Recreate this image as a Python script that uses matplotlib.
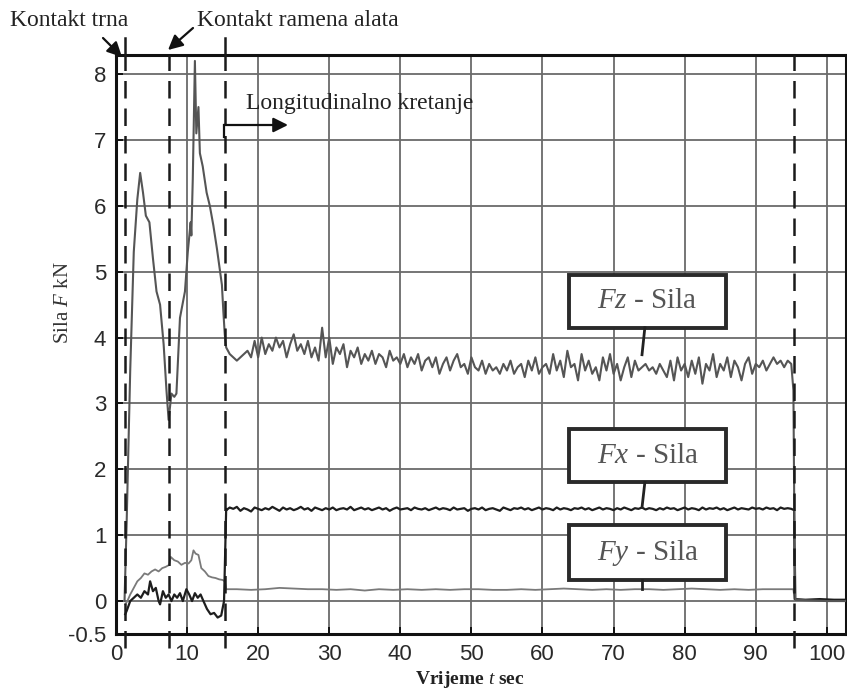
import matplotlib
matplotlib.use("Agg")
import matplotlib.pyplot as plt
from matplotlib.patches import Rectangle, FancyArrowPatch
from matplotlib.lines import Line2D

plt.rcParams["mathtext.fontset"] = "custom"
plt.rcParams["mathtext.rm"] = "Liberation Serif"
plt.rcParams["mathtext.it"] = "Liberation Serif:italic"
plt.rcParams["mathtext.bf"] = "Liberation Serif:bold"

# ---------------- data ----------------
# Fz - early transient phase
fz_early_t = [1.2, 1.5, 2.0, 2.5, 3.0, 3.4, 3.8, 4.2, 4.7, 5.2, 5.7, 6.2, 6.7, 7.1, 7.4,
              7.8, 8.2, 8.5, 9.0, 9.7, 10.1, 10.5, 10.6, 10.8, 11.1, 11.3, 11.6, 11.8,
              12.2, 12.75, 13.2, 13.7, 14.2, 14.9, 15.1, 15.3]
fz_early = [0.0, 1.2, 3.5, 5.3, 6.1, 6.5, 6.2, 5.85, 5.75, 5.2, 4.7, 4.5, 3.9, 3.2, 2.75,
            3.15, 3.1, 3.15, 4.3, 4.7, 5.3, 5.75, 5.55, 6.4, 8.2, 7.1, 7.5, 6.8,
            6.6, 6.2, 6.0, 5.7, 5.35, 4.8, 4.4, 4.05]
# steady phase sampled every 0.5 s from 15.5 s to 95.0 s
steady_start, steady_step = 15.5, 0.5
fz_steady = [
    3.85, 3.75, 3.70, 3.65, 3.70, 3.75, 3.80, 3.70, 3.95, 3.70,
    4.00, 3.75, 3.90, 3.80, 4.00, 3.85, 3.95, 3.70, 3.90, 4.05,
    3.80, 3.90, 3.75, 3.95, 3.70, 3.85, 3.65, 4.15, 3.70, 4.00,
    3.60, 3.85, 3.75, 3.90, 3.55, 3.80, 3.70, 3.85, 3.60, 3.75,
    3.65, 3.80, 3.60, 3.75, 3.70, 3.55, 3.80, 3.65, 3.70, 3.60,
    3.75, 3.55, 3.70, 3.60, 3.75, 3.50, 3.65, 3.70, 3.55, 3.70,
    3.45, 3.60, 3.70, 3.50, 3.65, 3.75, 3.55, 3.60, 3.45, 3.70,
    3.55, 3.50, 3.65, 3.45, 3.60, 3.50, 3.55, 3.45, 3.60, 3.50,
    3.65, 3.45, 3.55, 3.60, 3.40, 3.65, 3.50, 3.70, 3.45, 3.55,
    3.60, 3.45, 3.75, 3.50, 3.65, 3.40, 3.80, 3.55, 3.60, 3.35,
    3.75, 3.50, 3.65, 3.45, 3.55, 3.35, 3.70, 3.50, 3.75, 3.45,
    3.60, 3.35, 3.55, 3.70, 3.40, 3.65, 3.50, 3.55, 3.60, 3.50,
    3.55, 3.45, 3.60, 3.50, 3.40, 3.65, 3.35, 3.70, 3.50, 3.60,
    3.40, 3.65, 3.45, 3.70, 3.30, 3.60, 3.50, 3.75, 3.40, 3.60,
    3.50, 3.70, 3.40, 3.65, 3.55, 3.35, 3.60, 3.70, 3.45, 3.60,
    3.55, 3.65, 3.50, 3.60, 3.70, 3.60, 3.65, 3.55, 3.65, 3.60]
fz_tail_t = [95.3, 95.45, 95.6, 100.0, 102.7]
fz_tail = [3.2, 1.0, 0.02, 0.0, 0.0]

# Fx
fx_early_t = [1.3, 1.5, 2.0, 2.5, 3.0, 3.5, 4.0, 4.5, 4.8, 5.2, 5.6, 6.0, 6.2, 6.6, 7.0,
              7.4, 7.8, 8.2, 8.6, 9.0, 9.4, 9.9, 10.3, 10.7, 11.1, 11.5, 11.9, 12.3,
              12.8, 13.3, 13.8, 14.3, 14.8, 15.2]
fx_early = [-0.2, -0.15, 0.0, 0.05, 0.1, 0.05, 0.15, 0.1, 0.3, 0.15, 0.2, 0.0, -0.05, 0.15,
            0.05, 0.1, 0.0, 0.1, 0.05, 0.12, 0.0, 0.18, 0.1, 0.0, 0.12, 0.05, 0.1, 0.0,
            -0.12, -0.2, -0.18, -0.25, -0.22, 0.0]
fx_steady = [
    1.38, 1.42, 1.40, 1.43, 1.37, 1.41, 1.39, 1.36, 1.42, 1.40,
    1.38, 1.41, 1.39, 1.43, 1.40, 1.37, 1.42, 1.39, 1.41, 1.38,
    1.40, 1.43, 1.39, 1.41, 1.37, 1.42, 1.40, 1.38, 1.41, 1.39,
    1.42, 1.38, 1.40, 1.41, 1.39, 1.43, 1.38, 1.40, 1.42, 1.39,
    1.41, 1.38, 1.40, 1.42, 1.39, 1.41, 1.37, 1.40, 1.42, 1.39,
    1.40, 1.41, 1.38, 1.42, 1.40, 1.39, 1.41, 1.38, 1.40, 1.42,
    1.39, 1.41, 1.40, 1.38, 1.42, 1.39, 1.40, 1.41, 1.37, 1.40,
    1.41, 1.39, 1.42, 1.38, 1.40, 1.41, 1.39, 1.37, 1.42, 1.40,
    1.38, 1.41, 1.40, 1.42, 1.39, 1.41, 1.38, 1.40, 1.42, 1.39,
    1.41, 1.40, 1.38, 1.42, 1.39, 1.41, 1.40, 1.38, 1.41, 1.40,
    1.42, 1.39, 1.41, 1.38, 1.40, 1.42, 1.39, 1.41, 1.40, 1.38,
    1.41, 1.39, 1.42, 1.40, 1.38, 1.41, 1.40, 1.42, 1.39, 1.41,
    1.40, 1.38, 1.41, 1.39, 1.42, 1.40, 1.41, 1.38, 1.40, 1.42,
    1.39, 1.41, 1.40, 1.38, 1.42, 1.39, 1.41, 1.40, 1.42, 1.39,
    1.41, 1.38, 1.40, 1.42, 1.39, 1.41, 1.40, 1.39, 1.42, 1.40,
    1.41, 1.39, 1.42, 1.40, 1.41, 1.38, 1.42, 1.40, 1.41, 1.40]
fx_tail_t = [95.4, 95.5, 97.0, 99.0, 101.0, 102.7]
fx_tail = [1.38, 0.03, 0.02, 0.03, 0.02, 0.02]

# Fy
fy_early_t = [1.3, 1.6, 2.0, 2.5, 3.0, 3.5, 4.0, 4.5, 5.0, 5.5, 6.0, 6.5, 7.0, 7.5, 7.7,
              8.2, 8.7, 9.2, 9.7, 10.2, 10.6, 10.9, 11.2, 11.6, 12.0, 12.5, 13.0, 13.5,
              14.0, 14.5, 15.0, 15.3]
fy_early = [-0.05, 0.0, 0.1, 0.2, 0.3, 0.35, 0.42, 0.4, 0.45, 0.48, 0.45, 0.5, 0.52, 0.55,
            0.67, 0.62, 0.6, 0.55, 0.58, 0.57, 0.62, 0.77, 0.72, 0.7, 0.5, 0.45, 0.38,
            0.36, 0.35, 0.33, 0.32, 0.3]
fy_steady_t = [15.5, 17, 19, 21, 23, 25, 27, 29, 31, 33, 35, 37, 39, 41, 43, 45, 47, 49,
               51, 53, 55, 57, 59, 61, 63, 65, 67, 69, 71, 73, 75, 77, 79, 81, 83, 85,
               87, 89, 91, 93, 95.3]
fy_steady = [0.18, 0.18, 0.17, 0.18, 0.20, 0.19, 0.18, 0.18, 0.17, 0.18, 0.16, 0.18,
             0.17, 0.18, 0.17, 0.18, 0.17, 0.18, 0.18, 0.17, 0.17, 0.18, 0.17, 0.18,
             0.19, 0.18, 0.17, 0.18, 0.17, 0.18, 0.18, 0.17, 0.18, 0.19, 0.18, 0.17,
             0.18, 0.17, 0.18, 0.18, 0.18]
fy_tail_t = [95.5, 102.7]
fy_tail = [0.0, 0.0]

event_times = [1.3, 7.4, 15.3, 95.4]

x_ticks = [0, 10, 20, 30, 40, 50, 60, 70, 80, 90, 100]
y_ticks = [-0.5, 0, 1, 2, 3, 4, 5, 6, 7, 8]
y_tick_labels = ["-0.5", "0", "1", "2", "3", "4", "5", "6", "7", "8"]

# ---------------- assemble series ----------------
steady_t = [steady_start + steady_step * i for i in range(len(fz_steady))]
fz_t = fz_early_t + steady_t + fz_tail_t
fz_v = fz_early + fz_steady + fz_tail
fx_t = fx_early_t + [15.5] + steady_t + fx_tail_t
fx_v = fx_early + [1.40] + fx_steady + fx_tail
fy_t = fy_early_t + fy_steady_t + fy_tail_t
fy_v = fy_early + fy_steady + fy_tail

# ---------------- figure ----------------
W, H = 847, 690
fig = plt.figure(figsize=(W / 100, H / 100), dpi=100)
ax = fig.add_axes([116 / W, 1 - 634 / H, (846 - 116) / W, (634 - 55) / H])

ax.set_xlim(0, 102.7)
ax.set_ylim(-0.5, 8.29)

ax.grid(True, color="#6a6a6a", lw=1.3)
ax.set_axisbelow(True)

ax.plot(fy_t, fy_v, color="#7a7a7a", lw=1.3, zorder=3)
ax.plot(fx_t, fx_v, color="#1e1e1e", lw=1.6, zorder=4)
ax.plot(fz_t, fz_v, color="#555555", lw=1.5, zorder=5)

for t in event_times:
    ax.plot([t, t], [-0.72, 8.29], color="#1a1a1a", lw=1.8,
            linestyle=(0, (7, 4)), clip_on=False, zorder=6)
# short extensions above the frame for two event lines
for t in [event_times[0], event_times[2]]:
    ax.plot([t, t], [8.29, 8.55], color="#1a1a1a", lw=1.8, clip_on=False, zorder=6)

ax.set_xticks(x_ticks)
ax.set_yticks(y_ticks)
ax.set_yticklabels(y_tick_labels)
ax.tick_params(direction="in", length=5, width=1.2, labelsize=16,
               labelcolor="#2a2a2a", pad=7)
for lab in ax.get_xticklabels() + ax.get_yticklabels():
    lab.set_family("Liberation Sans")
for sp in ax.spines.values():
    sp.set_linewidth(2.2)
    sp.set_color("#111111")

serif = "Liberation Serif"


def fpx(px, py):
    return (px / W, 1 - py / H)


fig.text(*fpx(64, 303), "Sila $\\it{F}$ kN", rotation=90, ha="center", va="center",
         family=serif, fontsize=15, color="#333333")
fig.text(*fpx(470, 679), "Vrijeme $\\mathbf{\\it{t}}$ sec", ha="center", va="center",
         family=serif, fontsize=14, color="#222222", weight="bold")

fig.text(*fpx(10, 20), "Kontakt trna", ha="left", va="center", family=serif,
         fontsize=17, color="#222222")
fig.text(*fpx(197, 20), "Kontakt ramena alata", ha="left", va="center", family=serif,
         fontsize=17, color="#222222")
fig.text(*fpx(246, 104), "Longitudinalno kretanje", ha="left", va="center", family=serif,
         fontsize=17, color="#222222")

arrow_kw = dict(arrowstyle="-|>", color="#111111", lw=1.6, mutation_scale=22,
                shrinkA=0, shrinkB=0)
fig.add_artist(FancyArrowPatch(fpx(103, 38), fpx(122, 57),
                               transform=fig.transFigure, **arrow_kw))
fig.add_artist(FancyArrowPatch(fpx(193, 28), fpx(168, 50),
                               transform=fig.transFigure, **arrow_kw))
fig.add_artist(Line2D([224 / W, 224 / W], [1 - 137 / H, 1 - 125 / H],
                      transform=fig.transFigure, color="#111111", lw=1.6))
fig.add_artist(FancyArrowPatch(fpx(224, 125), fpx(288, 125),
                               transform=fig.transFigure, **arrow_kw))

# labelled boxes
boxes = [("F", "z", 4.15, 4.95, (74.4, 4.15), (74.0, 3.74)),
         ("F", "x", 1.80, 2.61, (74.4, 1.80), (74.0, 1.42)),
         ("F", "y", 0.32, 1.15, (74.0, 0.32), (74.0, 0.19))]
for f, sub, y0, y1, c0, c1 in boxes:
    ax.add_patch(Rectangle((63.8, y0), 22.0, y1 - y0, fill=True, facecolor="white",
                           edgecolor="#2a2a2a", lw=2.8, zorder=7))
    ax.text(74.8, (y0 + y1) / 2, f"$\\it{{{f}{sub}}}$ - Sila", ha="center", va="center",
            family=serif, fontsize=21, color="#555555", zorder=8)
    ax.plot([c0[0], c1[0]], [c0[1], c1[1]], color="#222222", lw=2.0, zorder=8)

fig.savefig("out.png", dpi=100)
